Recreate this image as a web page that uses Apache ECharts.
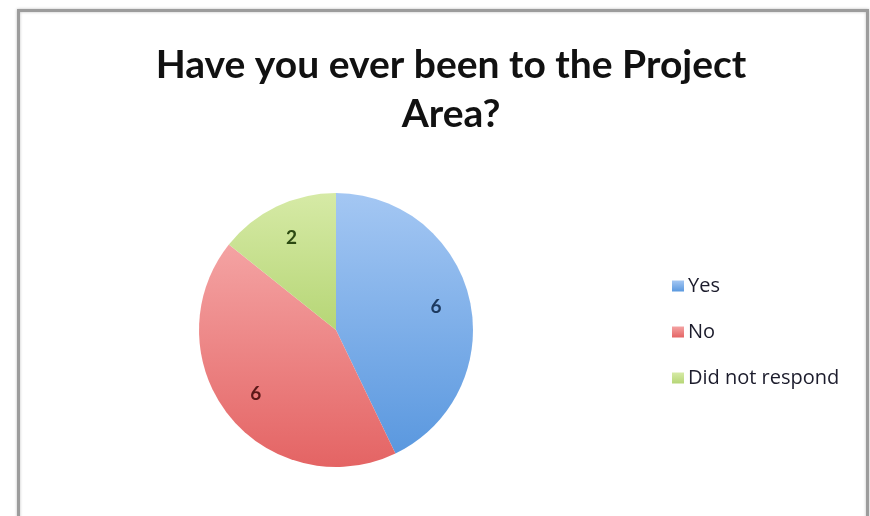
<!DOCTYPE html>
<html><head><meta charset="utf-8">
<script src="https://cdn.jsdelivr.net/npm/echarts@6/dist/echarts.min.js"></script>
<style>html,body{margin:0;padding:0;background:#fff}#c{width:870px;height:516px}</style>
</head><body><div id="c"></div>
<script>
const titleText = "Have you ever been to the Project\nArea?";
const categories = ["Yes", "No", "Did not respond"];
const values = [6, 6, 2];
const sliceColors = [["#a4c7f3", "#5a98df"], ["#f4a3a3", "#e46464"], ["#d6eaa6", "#b6d676"]];
const labelColors = ["#1d3a60", "#5a1818", "#2c4a12"];

const chart = echarts.init(document.getElementById('c'), null, {renderer: 'canvas'});
const data = categories.map((n, i) => ({
  name: n, value: values[i],
  itemStyle: {color: new echarts.graphic.LinearGradient(0, 0, 0, 1, [
    {offset: 0, color: sliceColors[i][0]}, {offset: 1, color: sliceColors[i][1]}])}
}));
const labelData = categories.map((n, i) => ({
  name: n, value: values[i],
  label: {color: labelColors[i]}
}));
chart.setOption({
  animation: false,
  backgroundColor: '#fff',
  title: {
    text: titleText, left: 446, top: 36, textAlign: 'center',
    textStyle: {fontFamily: 'Lato', fontWeight: 'bold', fontSize: 39, lineHeight: 49, color: '#111'}
  },
  graphic: [{
    type: 'rect', left: 17, top: 9, z: -10,
    shape: {width: 849, height: 540},
    style: {fill: '#fff', stroke: '#9c9c9c', lineWidth: 3, shadowBlur: 3, shadowColor: 'rgba(0,0,0,0.25)'}
  }],
  legend: {
    orient: 'vertical', left: 667, top: 271,
    data: categories, icon: 'rect', itemWidth: 12, itemHeight: 11, itemGap: 26,
    textStyle: {fontFamily: 'Open Sans', fontSize: 20, lineHeight: 20, color: '#1c1c2c', padding: [0,0,0,-1]}
  },
  series: [{
    type: 'pie', center: [336, 330], radius: [0, 137], startAngle: 90, clockwise: true,
    data: data, label: {show: false}, labelLine: {show: false}, silent: true,
    itemStyle: {borderWidth: 0}
  }, {
    type: 'pie', center: [336, 330], radius: [62, 137], startAngle: 90, clockwise: true,
    data: labelData, silent: true, legendHoverLink: false,
    itemStyle: {color: 'rgba(0,0,0,0)'},
    label: {show: true, position: 'inside', formatter: '{c}', fontFamily: 'Lato', fontWeight: 'bold', fontSize: 19},
    labelLine: {show: false}
  }]
});
</script></body></html>
